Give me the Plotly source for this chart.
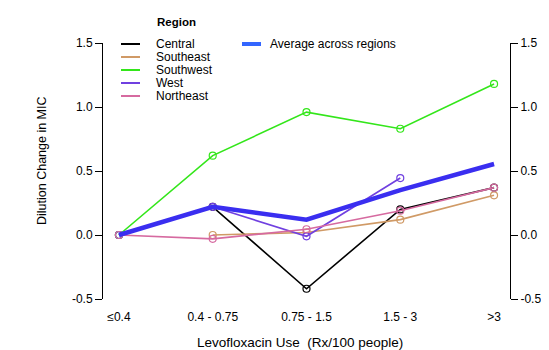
import plotly.graph_objects as go

categories = ["≤0.4", "0.4 - 0.75", "0.75 - 1.5", "1.5 - 3", ">3"]
series_names = ["Central", "Southeast", "Southwest", "West", "Northeast"]
central = [0.0, 0.22, -0.42, 0.20, 0.37]
southeast = [None, 0.0, 0.02, 0.12, 0.31]
southwest = [0.0, 0.62, 0.96, 0.83, 1.18]
west = [0.0, 0.22, -0.01, 0.445, None]
northeast = [0.0, -0.03, 0.045, 0.19, 0.37]
average = [0.0, 0.22, 0.12, 0.35, 0.555]
avg_name = "Average across regions"
y_ticks = [-0.5, 0.0, 0.5, 1.0, 1.5]
y_ticktext = ["-0.5", "0.0", "0.5", "1.0", "1.5"]

colors = ["#000000", "#d09a66", "#33e61a", "#7040e0", "#d66aa0"]
avg_color = "#3a2ef0"
series = [central, southeast, southwest, west, northeast]

FONT = "Liberation Sans, Arial, sans-serif"
OFF = 8  # page body margin offset
W, H = 549, 350
L, T = 103 - OFF, 43 - OFF
R = W - (510 - OFF)
B = H - (299 - OFF)
pw, ph = W - L - R, H - T - B

def px(x):
    return (x - OFF - L) / pw

def py(y):
    return (H - B - (y - OFF)) / ph

xs = list(range(len(categories)))
fig = go.Figure()
for name, vals, col in zip(series_names, series, colors):
    fig.add_trace(go.Scatter(
        x=xs, y=vals, mode="lines+markers", name=name,
        line=dict(color=col, width=1.6),
        marker=dict(symbol="circle-open", size=7, color=col, line=dict(width=1.2, color=col)),
        showlegend=False, connectgaps=False))
fig.add_trace(go.Scatter(
    x=xs, y=average, mode="lines", name=avg_name,
    line=dict(color=avg_color, width=4.5), showlegend=False))
# right mirror axis
fig.add_trace(go.Scatter(x=[xs[0]], y=[0], yaxis="y2", mode="markers",
                         marker=dict(opacity=0), showlegend=False, hoverinfo="skip"))

shapes = []
annotations = []
annotations.append(dict(text="<b>Region</b>", x=px(155), y=py(22), xref="paper", yref="paper",
                        xanchor="left", yanchor="middle", showarrow=False,
                        font=dict(family=FONT, size=11.5, color="black")))
row_y = [44, 57, 70, 83, 96]
for name, col, ry in zip(series_names, colors, row_y):
    shapes.append(dict(type="line", xref="paper", yref="paper", x0=px(121), x1=px(140),
                       y0=py(ry), y1=py(ry), line=dict(color=col, width=2)))
    annotations.append(dict(text=name, x=px(154), y=py(ry), xref="paper", yref="paper",
                            xanchor="left", yanchor="middle", showarrow=False,
                            font=dict(family=FONT, size=12, color="black")))
shapes.append(dict(type="line", xref="paper", yref="paper", x0=px(242), x1=px(261),
                   y0=py(44), y1=py(44), line=dict(color="#3366ff", width=4)))
annotations.append(dict(text=avg_name, x=px(268), y=py(44), xref="paper", yref="paper",
                        xanchor="left", yanchor="middle", showarrow=False,
                        font=dict(family=FONT, size=12, color="black")))
# axis titles
annotations.append(dict(text="Levofloxacin Use&nbsp; (Rx/100 people)", x=px(300), y=py(342),
                        xref="paper", yref="paper", xanchor="center", yanchor="middle",
                        showarrow=False, font=dict(family=FONT, size=13.5, color="black")))
annotations.append(dict(text="Dilution Change in MIC", x=px(42), y=py(161),
                        xref="paper", yref="paper", xanchor="center", yanchor="middle",
                        textangle=-90, showarrow=False,
                        font=dict(family=FONT, size=12.5, color="black")))

axis_common = dict(range=[-0.5, 1.5], tickvals=y_ticks, ticktext=y_ticktext,
                   showgrid=False, zeroline=False, showline=True, linecolor="black",
                   linewidth=1, ticks="outside", ticklen=7, tickcolor="black",
                   automargin=False,
                   tickfont=dict(family=FONT, size=12, color="black"))

fig.update_layout(
    width=W, height=H, margin=dict(l=L, r=R, t=T, b=B),
    plot_bgcolor="white", paper_bgcolor="white",
    font=dict(family=FONT, size=12, color="black"),
    showlegend=False,
    xaxis=dict(tickvals=xs, ticktext=categories, range=[-0.17, 4.17],
               showgrid=False, zeroline=False, showline=False, ticks="",
               ticklabelstandoff=9, automargin=False,
               tickfont=dict(family=FONT, size=12, color="black")),
    yaxis=dict(**axis_common, side="left"),
    yaxis2=dict(**axis_common, side="right", overlaying="y"),
    shapes=shapes, annotations=annotations,
)
fig.write_html("out.html")
